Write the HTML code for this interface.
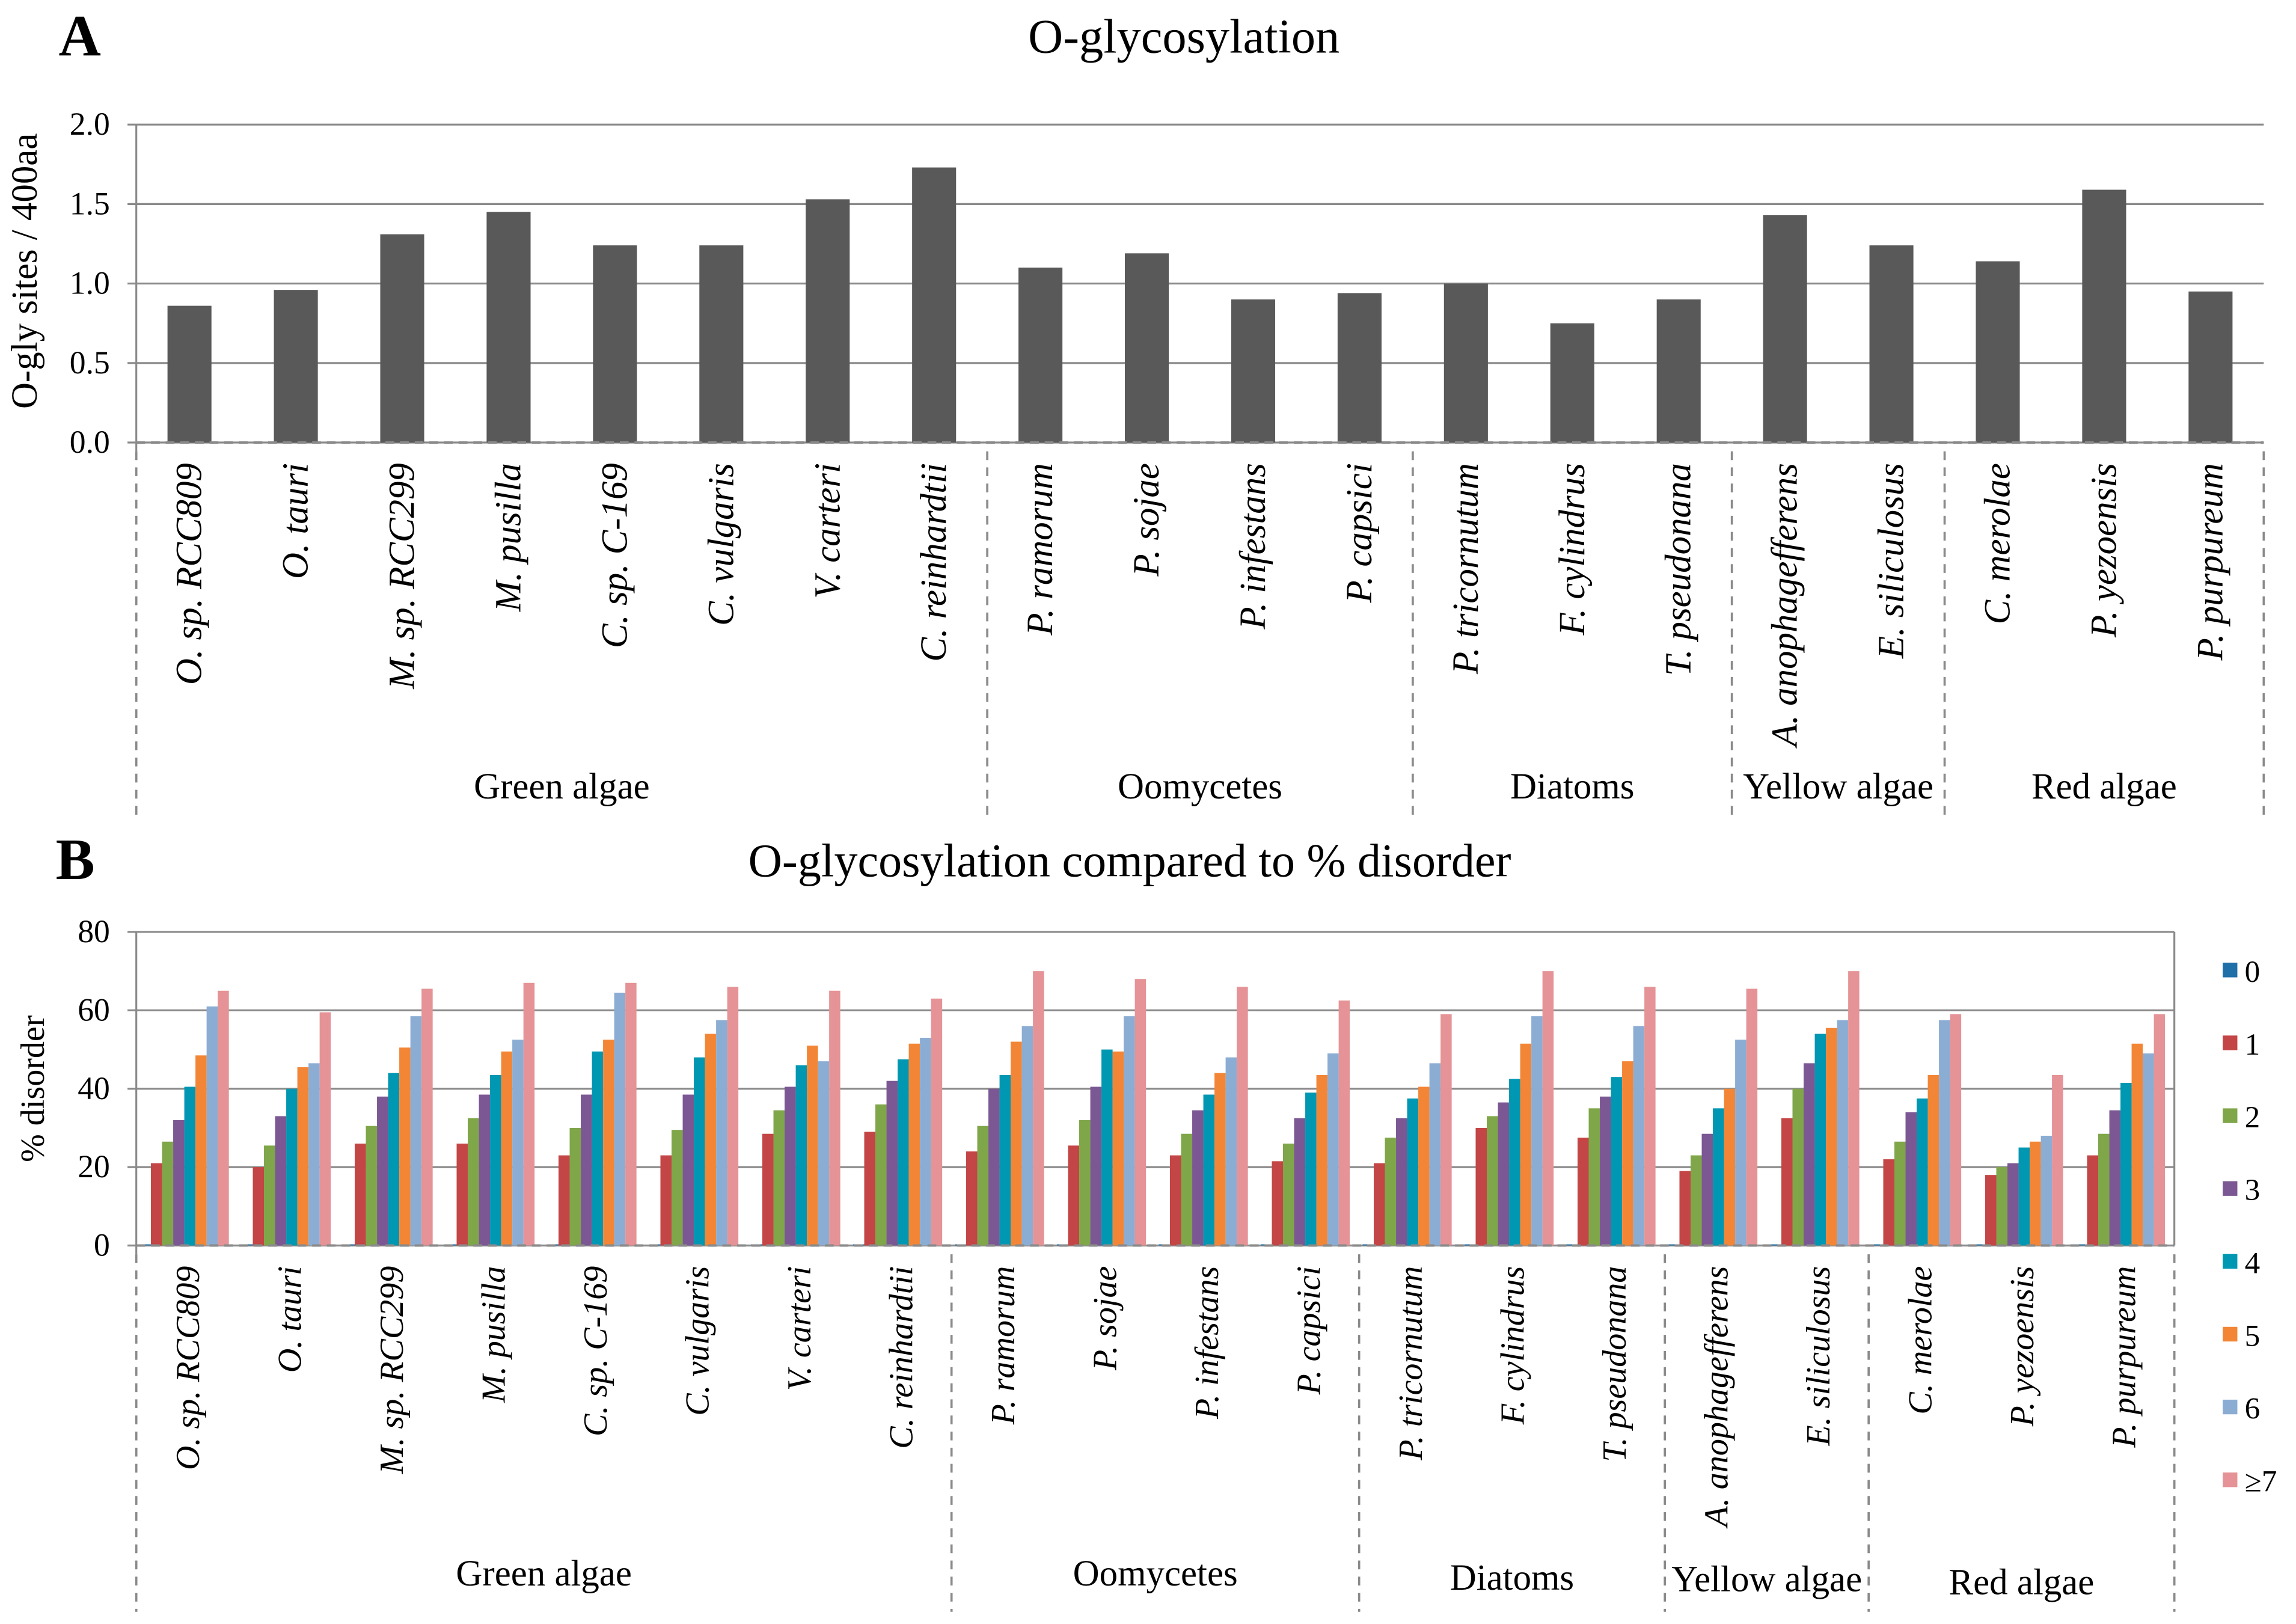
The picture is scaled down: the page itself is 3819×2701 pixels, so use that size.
<!DOCTYPE html>
<html><head><meta charset="utf-8"><style>
html,body{margin:0;padding:0;background:#fff}
svg{display:block}
text{font-family:"Liberation Serif",serif;fill:#000}
.it{font-style:italic}
</style></head><body>
<svg id="fig" width="3819" height="2701" viewBox="0 0 1567 1108.3" xmlns="http://www.w3.org/2000/svg">
<g id="gA"></g>
<g id="gB"></g>
</svg>
<script>
const categories = ["O. sp. RCC809","O. tauri","M. sp. RCC299","M. pusilla","C. sp. C-169","C. vulgaris","V. carteri","C. reinhardtii","P. ramorum","P. sojae","P. infestans","P. capsici","P. tricornutum","F. cylindrus","T. pseudonana","A. anophagefferens","E. siliculosus","C. merolae","P. yezoensis","P. purpureum"];
const groupNames = ["Green algae","Oomycetes","Diatoms","Yellow algae","Red  algae"];
const groupSizes = [8,4,3,2,3];
const oglyValues = [0.86,0.96,1.31,1.45,1.24,1.24,1.53,1.73,1.10,1.19,0.90,0.94,1.00,0.75,0.90,1.43,1.24,1.14,1.59,0.95];
const ticksA = [0,0.5,1.0,1.5,2.0];
const seriesNames = ["0","1","2","3","4","5","6","≥7"];
const s0 = [0.3,0.3,0.3,0.3,0.3,0.3,0.3,0.3,0.3,0.3,0.3,0.3,0.3,0.3,0.3,0.3,0.3,0.3,0.3,0.3];
const s1 = [21,20,26,26,23,23,28.5,29,24,25.5,23,21.5,21,30,27.5,19,32.5,22,18,23];
const s2 = [26.5,25.5,30.5,32.5,30,29.5,34.5,36,30.5,32,28.5,26,27.5,33,35,23,40,26.5,20,28.5];
const s3 = [32,33,38,38.5,38.5,38.5,40.5,42,40,40.5,34.5,32.5,32.5,36.5,38,28.5,46.5,34,21,34.5];
const s4 = [40.5,40,44,43.5,49.5,48,46,47.5,43.5,50,38.5,39,37.5,42.5,43,35,54,37.5,25,41.5];
const s5 = [48.5,45.5,50.5,49.5,52.5,54,51,51.5,52,49.5,44,43.5,40.5,51.5,47,40,55.5,43.5,26.5,51.5];
const s6 = [61,46.5,58.5,52.5,64.5,57.5,47,53,56,58.5,48,49,46.5,58.5,56,52.5,57.5,57.5,28,49];
const s7 = [65,59.5,65.5,67,67,66,65,63,70,68,66,62.5,59,70,66,65.5,70,59,43.5,59];
const seriesValues = [s0,s1,s2,s3,s4,s5,s6,s7];
const ticksB = [0,20,40,60,80];
const colors = ["#1f6fa8","#c44545","#7fa649","#7b5893","#0097b2","#f38636","#8cadd3","#e59396"];

const NS="http://www.w3.org/2000/svg";
function mk(parent,tag,attrs,txt){const e=document.createElementNS(NS,tag);for(const k in attrs)e.setAttribute(k,attrs[k]);if(txt!==undefined)e.textContent=txt;parent.appendChild(e);return e;}

function drawPanel(g, cfg){
  const {x0,x1,yTop,yBot,max,ticks,fmt,labY,grpLineEnd,grpLabY}=cfg;
  const n=categories.length, cw=(x1-x0)/n;
  const yS=v=>yBot-(v/max)*(yBot-yTop);
  const xS=i=>x0+cw*i;
  ticks.forEach(t=>{
    const l=mk(g,'line',{x1:x0-6,x2:x1,y1:yS(t),y2:yS(t),stroke:'#8a8a8a','stroke-width':1.3});
    
    
    const tx=mk(g,'text',{x:x0-18,y:yS(t)+7,'text-anchor':'end','font-size':cfg.tickFs},fmt(t));
    
    
  });
  mk(g,'line',{x1:x0,x2:x0,y1:yTop,y2:yBot+6,stroke:'#8a8a8a','stroke-width':1.3});
  if(cfg.rightFrame) mk(g,'line',{x1:x1,x2:x1,y1:yTop,y2:yBot,stroke:'#8a8a8a','stroke-width':1.3});
  cfg.drawBars(g,xS,yS,cw);
  const base=mk(g,'line',{x1:x0,x2:x1,y1:yBot,y2:yBot,stroke:'#8a8a8a','stroke-width':1.6,'stroke-dasharray':'6 4'});
  
  
  categories.forEach((c,i)=>{
    const cx=xS(i)+cw/2+8;
    const t=mk(g,'text',{x:cx,y:labY,'text-anchor':'end','font-size':cfg.catFs,class:'it',transform:`rotate(-90 ${cx} ${labY})`},c);
    
    
  });
  let idx=0; const bounds=[0];
  groupSizes.forEach(s=>{idx+=s;bounds.push(idx);});
  bounds.forEach(b=>{
    const l=mk(g,'line',{x1:xS(b),x2:xS(b),y1:yBot+6,y2:grpLineEnd,stroke:'#8a8a8a','stroke-width':1.5,'stroke-dasharray':'6 5'});
    
    
  });
  groupNames.forEach((gn,k)=>{
    const cx=(xS(bounds[k])+xS(bounds[k+1]))/2;
    const t=mk(g,'text',{x:cx,y:grpLabY[k],'text-anchor':'middle','font-size':25,'xml:space':'preserve'},gn);
    
    
  });
}

const gA=document.getElementById('gA');
let t=mk(gA,'text',{x:40,y:38,'font-size':40,'font-weight':'bold'},'A');

t=mk(gA,'text',{x:808,y:36,'text-anchor':'middle','font-size':33},'O-glycosylation');

t=mk(gA,'text',{x:25,y:185,'text-anchor':'middle','font-size':25,transform:'rotate(-90 25 185)'},'O-gly sites / 400aa');

drawPanel(gA,{x0:93,x1:1545,yTop:85,yBot:302,max:2,ticks:ticksA,fmt:v=>v.toFixed(1),tickFs:22,catFs:25,labY:316,grpLineEnd:560,grpLabY:[545,545,545,545,545],rightFrame:false,
 drawBars:(g,xS,yS,cw)=>{oglyValues.forEach((v,i)=>{const w=30;const r=mk(g,'rect',{x:xS(i)+cw/2-w/2,y:yS(v),width:w,height:yS(0)-yS(v),fill:'#595959'});
  
  });}});

const gB=document.getElementById('gB');
t=mk(gB,'text',{x:38,y:600,'font-size':40,'font-weight':'bold'},'B');

t=mk(gB,'text',{x:771,y:598,'text-anchor':'middle','font-size':32},'O-glycosylation compared to % disorder');

t=mk(gB,'text',{x:30,y:743,'text-anchor':'middle','font-size':23,transform:'rotate(-90 30 743)'},'% disorder');

drawPanel(gB,{x0:93,x1:1484,yTop:636,yBot:850,max:80,ticks:ticksB,fmt:v=>String(v),tickFs:22,catFs:23,labY:864,grpLineEnd:1100,grpLabY:[1082,1082,1085,1086,1088],rightFrame:true,
 drawBars:(g,xS,yS,cw)=>{const bw=7.6;seriesValues.forEach((ser,s)=>{ser.forEach((v,i)=>{
  const x=xS(i)+cw/2-4*bw+s*bw-2;
  const r=mk(g,'rect',{x:x,y:yS(v),width:bw,height:yS(0)-yS(v),fill:colors[s]});
  
  });});}});
seriesNames.forEach((n,s)=>{
  const y=665+s*49.7;
  const r=mk(gB,'rect',{x:1517,y:y-8,width:10,height:10,fill:colors[s]});
  
  const tx=mk(gB,'text',{x:1532,y:y+5,'font-size':21},n);
  
});
</script>
</body></html>
